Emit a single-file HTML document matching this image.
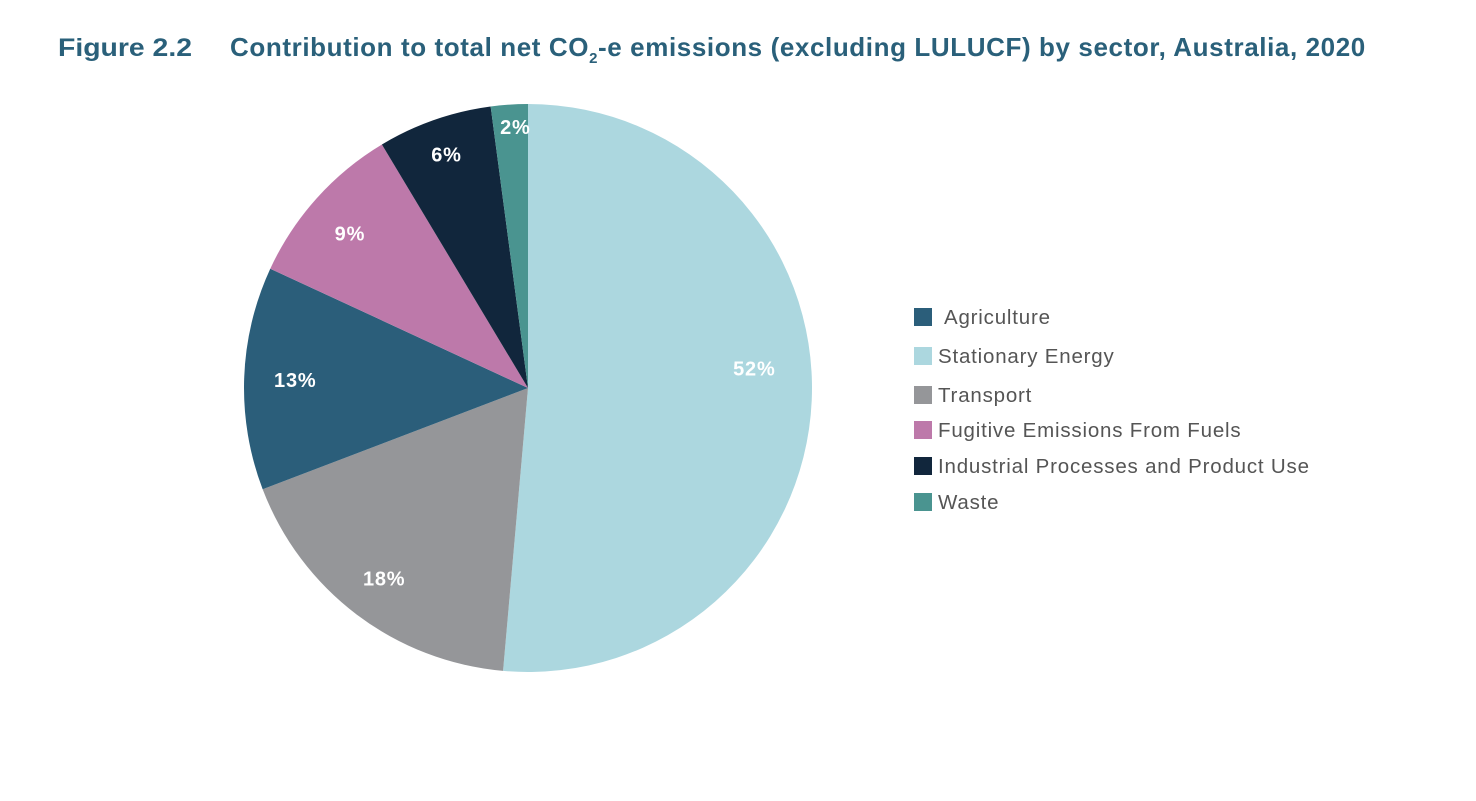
<!DOCTYPE html>
<html><head><meta charset="utf-8"><style>
body{margin:0;background:#fff;width:1476px;height:796px;overflow:hidden;font-family:"Liberation Sans",sans-serif}
</style></head><body>
<svg width="1476" height="796">
<text x="58" y="56" font-size="25" font-weight="bold" fill="#2a607a" textLength="134" lengthAdjust="spacingAndGlyphs">Figure 2.2</text>
<text x="230" y="56" font-size="26" font-weight="bold" fill="#2a607a" letter-spacing="0.6">Contribution to total net CO<tspan font-size="15" dy="7">2</tspan><tspan dy="-7">-e emissions (excluding LULUCF) by sector, Australia, 2020</tspan></text>
<g id="slices"></g><g id="labels"></g><g id="legend"></g>
</svg>
<script>
const categories=["Stationary Energy","Transport","Agriculture","Fugitive Emissions From Fuels","Industrial Processes and Product Use","Waste"];
const values=[51.4,17.8,12.7,9.5,6.5,2.1];
const valueLabels=["52%","18%","13%","9%","6%","2%"];
const legendOrder=["Agriculture","Stationary Energy","Transport","Fugitive Emissions From Fuels","Industrial Processes and Product Use","Waste"];
const colors={"Stationary Energy":"#acd7df","Transport":"#959699","Agriculture":"#2b5e7a","Fugitive Emissions From Fuels":"#bd79aa","Industrial Processes and Product Use":"#11263c","Waste":"#4a9490"};
const labelAngleShift=[-7.5,0,0,-1,0,1];
const labelFrac=[0.80,0.84,0.82,0.83,0.87,0.92];
const cx=528,cy=388,r=284,NS="http://www.w3.org/2000/svg";
const total=values.reduce((a,b)=>a+b,0);
function pt(a,rad){return [cx+rad*Math.sin(a),cy-rad*Math.cos(a)];}
let acc=0;
const sg=document.getElementById('slices'),lg=document.getElementById('labels'),leg=document.getElementById('legend');
values.forEach((v,i)=>{
 const a0=acc/total*2*Math.PI;acc+=v;const a1=acc/total*2*Math.PI;
 const p0=pt(a0,r),p1=pt(a1,r),large=(a1-a0)>Math.PI?1:0;
 const p=document.createElementNS(NS,'path');
 p.setAttribute('d',`M${cx},${cy}L${p0[0]},${p0[1]}A${r},${r} 0 ${large} 1 ${p1[0]},${p1[1]}Z`);
 p.setAttribute('fill',colors[categories[i]]);
 
 
 sg.appendChild(p);
 const am=(a0+a1)/2+labelAngleShift[i]*Math.PI/180,lp=pt(am,r*labelFrac[i]);
 const t=document.createElementNS(NS,'text');
 t.setAttribute('x',lp[0]);t.setAttribute('y',lp[1]+7);
 t.setAttribute('text-anchor','middle');t.setAttribute('font-size','20');t.setAttribute('font-weight','bold');t.setAttribute('fill','#fff');t.setAttribute('letter-spacing','0.8');
 t.textContent=valueLabels[i];
 
 
 lg.appendChild(t);
});
const ly=[317,356,395,430,466,502];
legendOrder.forEach((c,i)=>{
 const g=document.createElementNS(NS,'g');
 
 
 const s=document.createElementNS(NS,'rect');
 s.setAttribute('x',914);s.setAttribute('y',ly[i]-9);s.setAttribute('width',18);s.setAttribute('height',18);s.setAttribute('fill',colors[c]);
 const t=document.createElementNS(NS,'text');
 t.setAttribute('x',i==0?944:938);t.setAttribute('y',ly[i]+7);t.setAttribute('font-size','20.5');t.setAttribute('fill','#555');t.setAttribute('letter-spacing','0.8');
 t.textContent=c;
 g.appendChild(s);g.appendChild(t);leg.appendChild(g);
});
</script>
</body></html>
